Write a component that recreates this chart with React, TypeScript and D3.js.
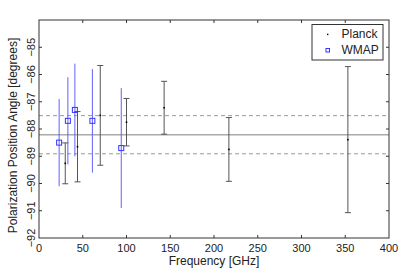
import React, { useEffect, useRef } from "react";
import * as d3 from "d3";

// Planck frequency channels
const planckFreq = [30, 44, 70, 100, 143, 217, 353];
const planckAngle = [-89.26, -88.65, -87.5, -87.75, -87.22, -88.75, -88.39];
const planckErr = [0.75, 1.29, 1.83, 0.87, 0.97, 1.17, 2.68];

// WMAP bands
const wmapFreq = [23, 33, 41, 61, 94];
const wmapAngle = [-88.5, -87.7, -87.3, -87.7, -88.7];
const wmapErr = [1.6, 1.6, 1.7, 1.9, 2.2];

// weighted mean and its 1-sigma band
const meanAngle = -88.21;
const meanErr = 0.7;

const xTicks = [0, 50, 100, 150, 200, 250, 300, 350, 400];
const yTicks = [-92, -91, -90, -89, -88, -87, -86, -85];

const width = 407;
const height = 269;
const margin = { top: 20, right: 18, bottom: 31, left: 39 };

export default function App() {
  const ref = useRef<SVGSVGElement>(null);

  useEffect(() => {
    const svg = d3.select(ref.current);
    svg.selectAll("*").remove();

    const x = d3
      .scaleLinear()
      .domain([0, 400])
      .range([margin.left, width - margin.right]);
    const y = d3
      .scaleLinear()
      .domain([-92, -84])
      .range([height - margin.bottom, margin.top]);

    const font = "'Liberation Sans', Arial, sans-serif";
    const fmt = (d: number) => String(d).replace("-", "\u2212");

    // mean line and band
    svg
      .append("line")
      .attr("x1", x(0))
      .attr("x2", x(400))
      .attr("y1", y(meanAngle))
      .attr("y2", y(meanAngle))
      .attr("stroke", "#aaa")
      .attr("stroke-width", 1.6);

    [meanAngle + meanErr, meanAngle - meanErr].forEach((v) => {
      svg
        .append("line")
        .attr("x1", x(0))
        .attr("x2", x(400))
        .attr("y1", y(v))
        .attr("y2", y(v))
        .attr("stroke", "#999")
        .attr("stroke-width", 1)
        .attr("stroke-dasharray", "4,3");
    });

    // WMAP error bars (no caps)
    const wmap = wmapFreq.map((f, i) => ({ f, v: wmapAngle[i], e: wmapErr[i] }));
    svg
      .append("g")
      .selectAll("line")
      .data(wmap)
      .join("line")
      .attr("x1", (d) => x(d.f))
      .attr("x2", (d) => x(d.f))
      .attr("y1", (d) => y(d.v - d.e))
      .attr("y2", (d) => y(d.v + d.e))
      .attr("stroke", "#6060ff")
      .attr("stroke-width", 1);

    // Planck error bars with caps
    const planck = planckFreq.map((f, i) => ({ f, v: planckAngle[i], e: planckErr[i] }));
    const pg = svg.append("g").attr("stroke", "#555").attr("stroke-width", 1);
    planck.forEach((d) => {
      pg.append("line")
        .attr("x1", x(d.f))
        .attr("x2", x(d.f))
        .attr("y1", y(d.v - d.e))
        .attr("y2", y(d.v + d.e));
      [d.v - d.e, d.v + d.e].forEach((c) => {
        pg.append("line")
          .attr("x1", x(d.f) - 3)
          .attr("x2", x(d.f) + 3)
          .attr("y1", y(c))
          .attr("y2", y(c));
      });
    });

    svg
      .append("g")
      .selectAll("rect")
      .data(planck)
      .join("rect")
      .attr("x", (d) => x(d.f) - 0.8)
      .attr("y", (d) => y(d.v) - 0.8)
      .attr("width", 1.6)
      .attr("height", 1.6)
      .attr("fill", "#000");

    svg
      .append("g")
      .selectAll("rect")
      .data(wmap)
      .join("rect")
      .attr("x", (d) => x(d.f) - 2.5)
      .attr("y", (d) => y(d.v) - 2.5)
      .attr("width", 5)
      .attr("height", 5)
      .attr("fill", "none")
      .attr("stroke", "#3333ff")
      .attr("stroke-width", 1);

    // frame
    svg
      .append("rect")
      .attr("x", x(0))
      .attr("y", y(-84))
      .attr("width", x(400) - x(0))
      .attr("height", y(-92) - y(-84))
      .attr("fill", "none")
      .attr("stroke", "#333")
      .attr("stroke-width", 1);

    // inward ticks on all four sides
    const tk = svg.append("g").attr("stroke", "#333").attr("stroke-width", 1);
    xTicks.slice(1, -1).forEach((t) => {
      tk.append("line").attr("x1", x(t)).attr("x2", x(t)).attr("y1", y(-92)).attr("y2", y(-92) - 3);
      tk.append("line").attr("x1", x(t)).attr("x2", x(t)).attr("y1", y(-84)).attr("y2", y(-84) + 3);
    });
    yTicks.slice(1).forEach((t) => {
      tk.append("line").attr("x1", x(0)).attr("x2", x(0) + 3).attr("y1", y(t)).attr("y2", y(t));
      tk.append("line").attr("x1", x(400)).attr("x2", x(400) - 3).attr("y1", y(t)).attr("y2", y(t));
    });

    // tick labels
    svg
      .append("g")
      .selectAll("text")
      .data(xTicks)
      .join("text")
      .attr("x", (d) => x(d))
      .attr("y", 251.5)
      .attr("text-anchor", "middle")
      .style("font-family", font)
      .style("font-size", "11px")
      .attr("fill", "#222")
      .text((d) => String(d));

    svg
      .append("g")
      .selectAll("text")
      .data(yTicks)
      .join("text")
      .attr("transform", (d) => `translate(35,${y(d)}) rotate(-90)`)
      .attr("text-anchor", "middle")
      .style("font-family", font)
      .style("font-size", "11px")
      .attr("fill", "#222")
      .text((d) => fmt(d));

    svg
      .append("text")
      .attr("x", (x(0) + x(400)) / 2)
      .attr("y", 265)
      .attr("text-anchor", "middle")
      .style("font-family", font)
      .style("font-size", "12px")
      .attr("fill", "#222")
      .text("Frequency [GHz]");

    svg
      .append("text")
      .attr("transform", "translate(16.5,135.5) rotate(-90)")
      .attr("text-anchor", "middle")
      .style("font-family", font)
      .style("font-size", "12px")
      .attr("fill", "#222")
      .text("Polarization Position Angle [degrees]");

    // legend
    const lg = svg.append("g").attr("transform", "translate(312,24.5)");
    lg.append("rect")
      .attr("width", 71)
      .attr("height", 35.5)
      .attr("fill", "#fff")
      .attr("stroke", "#333")
      .attr("stroke-width", 1);
    lg.append("rect").attr("x", 15).attr("y", 9.2).attr("width", 1.4).attr("height", 1.4).attr("fill", "#000");
    lg.append("rect")
      .attr("x", 14)
      .attr("y", 24)
      .attr("width", 3.5)
      .attr("height", 3.5)
      .attr("fill", "none")
      .attr("stroke", "#3333ff")
      .attr("stroke-width", 1);
    ["Planck", "WMAP"].forEach((s, i) => {
      lg.append("text")
        .attr("x", 29.5)
        .attr("y", 13.5 + i * 15.5)
        .style("font-family", font)
        .style("font-size", "12px")
        .attr("fill", "#222")
        .text(s);
    });
  }, []);

  return (
    <svg
      ref={ref}
      width={width}
      height={height}
      style={{ position: "absolute", left: 0, top: 0, background: "#fff" }}
    />
  );
}
